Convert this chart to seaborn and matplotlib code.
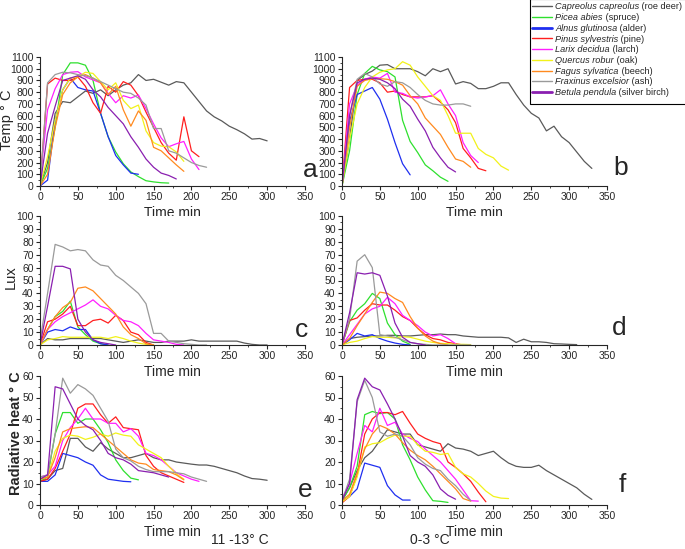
import numpy as np
import pandas as pd
import matplotlib
matplotlib.use('Agg')
import matplotlib.pyplot as plt
from matplotlib.lines import Line2D
from matplotlib.patches import Rectangle
from matplotlib.ticker import MultipleLocator
import seaborn as sns

minutes = [0, 10, 20, 30, 40, 50, 60, 70, 80, 90, 100, 110, 120, 130, 140, 150, 160,
           170, 180, 190, 200, 210, 220, 230, 240, 250, 260, 270, 280, 290, 300, 310,
           320, 330]

keys = ['deer', 'spruce', 'alder', 'pine', 'larch', 'oak', 'beech', 'ash', 'birch']
latin = ['Capreolus capreolus', 'Picea abies', 'Alnus glutinosa', 'Pinus sylvestris',
         'Larix decidua', 'Quercus robur', 'Fagus sylvatica', 'Fraxinus excelsior',
         'Betula pendula']
common = ['roe deer', 'spruce', 'alder', 'pine', 'larch', 'oak', 'beech', 'ash',
          'silver birch']
colors = ['#5a5a5a', '#2ee02e', '#1f2ff0', '#ff1f1f', '#ff1fff', '#f2f21a',
          '#ff8a1f', '#9a9a9a', '#8a1fb0']

# temperature, 11-13 C
temp_warm = {
    'deer': [0, 200, 620, 720, 710, 760, 810, 790, 820, 770, 820, 860, 880, 950, 900, 910,
             885, 860, 890, 880, 800, 720, 640, 590, 555, 510, 480, 445, 400, 405, 385],
    'spruce': [0, 150, 500, 950, 1050, 1050, 1030, 900, 620, 420, 290, 190, 120, 80, 45, 35,
               28, 25],
    'alder': [0, 50, 560, 820, 920, 840, 820, 810, 620, 420, 260, 180, 110, 100],
    'pine': [0, 870, 920, 900, 900, 930, 850, 710, 620, 850, 800, 890, 860, 770, 630, 500,
             370, 280, 220, 590, 300, 250],
    'larch': [50, 650, 830, 950, 970, 975, 930, 905, 880, 790, 710, 770, 750, 775, 660, 530,
              410, 335, 360, 380, 230, 140],
    'oak': [0, 250, 560, 820, 920, 930, 970, 960, 890, 820, 880, 730, 660, 690, 470, 370,
            340, 335, 290, 210],
    'beech': [0, 100, 500, 780, 880, 930, 950, 920, 880, 780, 850, 650, 510, 640, 560, 330,
              300, 240, 180, 125],
    'ash': [0, 880, 950, 970, 965, 950, 940, 920, 890, 860, 830, 800, 790, 750, 690, 490,
            490, 300, 280, 240, 200, 175, 160],
    'birch': [0, 450, 680, 900, 920, 940, 910, 820, 760, 670, 600, 530, 420, 330, 230, 160,
              110, 90, 60],
}

# temperature, 0-3 C
temp_cold = {
    'deer': [0, 400, 900, 950, 980, 1030, 1035, 1000, 1000, 1000, 975, 940, 1000, 975, 1000,
             870, 890, 875, 830, 830, 850, 880, 880, 780, 690, 620, 580, 470, 510, 420, 370,
             290, 210, 150],
    'spruce': [0, 300, 780, 960, 1020, 990, 975, 930, 560, 380, 285, 180, 130, 75, 40],
    'alder': [0, 550, 780, 810, 840, 740, 570, 370, 190, 95],
    'pine': [0, 840, 900, 910, 910, 880, 800, 810, 780, 760, 760, 760, 770, 715, 650, 540,
             320, 240, 150, 130],
    'larch': [0, 700, 860, 910, 930, 920, 960, 800, 790, 760, 750, 760, 770, 820, 700, 600,
              370, 260, 200],
    'oak': [0, 400, 700, 840, 930, 970, 990, 1000, 1060, 1030, 930, 850, 770, 730, 600, 450,
            450, 450, 320, 270, 240, 170, 135],
    'beech': [0, 500, 850, 900, 915, 915, 910, 890, 860, 770, 700, 580, 510, 440, 330, 230,
              210, 160],
    'ash': [0, 600, 910, 960, 930, 870, 850, 890, 880, 840, 780, 730, 700, 690, 690, 700,
            700, 680],
    'birch': [0, 600, 880, 910, 920, 910, 880, 830, 740, 680, 570, 470, 330, 240, 160, 120],
}

# light, 11-13 C
lux_warm = {
    'deer': [0, 5, 4, 4, 5, 5, 5, 5, 5, 4, 3, 2, 3, 4, 3, 2, 2, 3, 3, 3, 4, 3, 3, 3, 3, 3, 3,
             1.5, 0.5, 0, 0],
    'spruce': [0, 12, 22, 26, 34, 14, 8, 3, 1, 0],
    'alder': [0, 10, 12, 11, 14, 12, 12, 4, 1, 0],
    'pine': [0, 18, 20, 24, 30, 15, 15, 19, 20, 17, 23, 19, 10, 8, 2, 0],
    'larch': [0, 12, 18, 22, 25, 28, 31, 35, 30, 28, 23, 19, 18, 15, 9, 4, 3, 2, 0.5, 0],
    'oak': [0, 4, 5, 6.5, 6, 6, 6, 6, 6, 5, 6.5, 5, 3, 1.5, 0.5, 0],
    'beech': [0, 12, 22, 29, 33, 44, 45, 42, 36, 30, 24, 14, 8, 5, 1, 0],
    'ash': [3, 40, 78, 76, 73, 74, 73, 66, 62, 61, 54, 50, 45, 40, 32, 9, 9, 3, 2, 1, 0.5,
            0, 0],
    'birch': [0, 30, 61, 61, 59, 20, 10, 4, 2, 1, 0],
}

# light, 0-3 C
lux_cold = {
    'deer': [0, 5, 6, 6.5, 7, 7, 7.5, 7.5, 7, 7, 7.5, 8, 8, 8.5, 8, 8, 7, 6.5, 6, 6, 6, 6,
             5.5, 2, 4.5, 2.5, 2.5, 2, 1, 0.8, 0.5, 0.3],
    'spruce': [0, 18, 27, 32, 40, 36, 17, 8, 3, 0.5],
    'alder': [0, 4, 9, 7, 8, 5, 3, 1.5, 0.5, 0],
    'pine': [0, 19, 21, 27, 32, 31, 31, 27, 22, 19, 13, 8, 5, 4, 2, 1, 0],
    'larch': [0, 8, 16, 24, 28, 30, 37, 32, 23, 19, 15, 10, 7, 8, 5, 1],
    'oak': [0, 2, 3, 5, 6.5, 6, 6, 5.5, 6.5, 6, 4.5, 3, 2, 1.3, 1, 0.5, 0.5, 0.3],
    'beech': [0, 5, 15, 24, 33, 41, 40, 36, 33, 22, 13, 7, 3, 1, 0],
    'ash': [0, 20, 65, 70, 60, 8, 7, 6, 4, 2, 1, 0.5, 0, 0, 0, 0, 0, 0],
    'birch': [0, 25, 56, 55, 56, 54, 38, 17, 6, 2, 1, 0],
}

# radiative heat, 11-13 C
rad_warm = {
    'deer': [11, 12, 16, 17, 31, 31, 27, 25, 29, 26, 24, 22, 22, 23, 24, 22, 21, 21, 20,
             19.5, 19, 18.6, 18.6, 18, 17, 16, 15, 13.5, 12.3, 12, 11.5],
    'spruce': [11, 13, 33, 43, 43, 38, 40, 40, 35, 29, 21, 16, 12.5, 11.7],
    'alder': [11, 11, 14, 24, 23, 22, 20, 18.5, 14, 12, 11.5, 11, 10.8],
    'pine': [11, 12, 17, 25, 33, 45, 47, 47, 42, 38, 41, 36, 35.5, 35, 23, 18, 15, 13.5, 12,
             10.5],
    'larch': [13, 14, 18, 30, 36, 40, 45, 40, 40, 38, 38, 34, 35.5, 32, 24, 23, 21, 18, 15,
              13.5, 12, 11],
    'oak': [12, 13, 25, 31, 32.5, 32, 30.5, 31.5, 33, 32, 33.5, 32.5, 32, 28, 26, 24, 22, 18,
            14.5, 12],
    'beech': [12, 13, 22, 34, 35.5, 36, 36.4, 36, 33, 30, 27, 24, 21, 19.5, 19, 16.5, 16,
              15.5, 14, 11.7],
    'ash': [13, 14, 33, 59, 52, 56, 54, 51, 45, 39, 26, 22, 20.5, 18, 16.5, 15.5, 15.5, 15.5,
            15, 14.5, 13, 12, 11],
    'birch': [12, 14, 55, 54, 47, 40, 37, 35, 30, 24, 22, 21, 19, 16, 15.5, 15, 14, 13],
}

# radiative heat, 0-3 C
rad_cold = {
    'deer': [2, 8, 16, 22, 25, 30, 35, 34, 33, 33, 28, 27, 26, 25, 28.5, 26.5, 26, 25, 23,
             24, 25, 22, 19.5, 18, 17.5, 17.5, 18.5, 16, 14, 12, 10, 8, 5, 2.6],
    'spruce': [2, 8, 18, 42, 43.5, 42.5, 43, 40, 28, 21, 13, 7, 2, 1.7, 1.2],
    'alder': [1.5, 4, 7.5, 19.5, 18.5, 17.5, 9, 4.7, 2.3, 2.3],
    'pine': [1, 4, 14, 33, 40, 43, 43, 42, 43.5, 38, 33, 31, 29.5, 28.5, 20, 17.5, 14.5, 11,
             6, 1.5],
    'larch': [3, 10, 24, 37, 34, 45, 37, 38.5, 33, 31, 29.5, 26, 23, 20, 16, 12, 7, 2, 1.8],
    'oak': [1.5, 4, 13, 27, 28.5, 29, 31, 32.5, 32, 32, 28, 25, 24.5, 23.5, 24, 17.5, 14.5,
            13, 10, 6.5, 4, 3.2, 3],
    'beech': [2, 5, 15, 26, 33, 37, 35.5, 33, 29, 25.5, 23, 21, 18, 14.5, 11, 7.5, 3, 1.8],
    'ash': [2, 12, 48, 58, 50, 34, 32, 33, 32, 28, 22, 19, 17, 16, 12, 9, 5, 2],
    'birch': [2, 10, 49, 59, 55, 53.5, 47, 40, 32, 23, 20, 18, 14, 7.5, 4.5, 2.7],
}

sns.set_style('ticks')
plt.rcParams['font.family'] = ['Liberation Sans', 'DejaVu Sans']

palette = dict(zip(keys, colors))
W, H = 685, 549
fig = plt.figure(figsize=(W / 100, H / 100), dpi=100)


def draw(left, top, series, ymax, major, minor, letter, letter_xy):
    ax = fig.add_axes([left / W, 1 - (top + 129) / H, 265 / W, 129 / H])
    rows = []
    for k in keys:
        for t, v in zip(minutes, series[k]):
            rows.append((t, v, k))
    df = pd.DataFrame(rows, columns=['Time', 'value', 'species'])
    sns.lineplot(data=df, x='Time', y='value', hue='species', hue_order=keys,
                 palette=palette, estimator=None, linewidth=0.9, legend=False, ax=ax)
    ax.set_xlim(0, 350)
    ax.set_ylim(0, ymax)
    ax.xaxis.set_major_locator(MultipleLocator(50))
    ax.xaxis.set_minor_locator(MultipleLocator(25))
    ax.yaxis.set_major_locator(MultipleLocator(major))
    ax.yaxis.set_minor_locator(MultipleLocator(minor))
    ax.tick_params(which='major', length=3, width=0.8, labelsize=7.5, pad=1.5)
    ax.tick_params(which='minor', length=1.5, width=0.6)
    for s in ['top', 'right']:
        ax.spines[s].set_visible(False)
    for s in ['left', 'bottom']:
        ax.spines[s].set_linewidth(0.8)
    ax.set_xlabel('Time min', fontsize=10, labelpad=2.5)
    ax.set_ylabel('')
    fig.text(letter_xy[0] / W, 1 - letter_xy[1] / H, letter, fontsize=19,
             ha='center', va='center')
    return ax


draw(40, 57, temp_warm, 1100, 100, 50, 'a', (310, 170))
draw(342, 57, temp_cold, 1100, 100, 50, 'b', (621, 168))
draw(40, 216, lux_warm, 100, 10, 5, 'c', (302, 330))
draw(342, 216, lux_cold, 100, 10, 5, 'd', (619, 328))
draw(40, 376, rad_warm, 60, 10, 5, 'e', (305, 490))
draw(342, 376, rad_cold, 60, 10, 5, 'f', (622, 485))

fig.text(7 / W, 1 - 120 / H, 'Temp ° C', rotation=90, fontsize=10.5, ha='center', va='center')
fig.text(11 / W, 1 - 277 / H, 'Lux', rotation=90, fontsize=10.5, ha='center', va='center')
fig.text(16 / W, 1 - 433 / H, 'Radiative heat ° C', rotation=90, fontsize=10.5,
         fontweight='bold', ha='center', va='center')
fig.text(240 / W, 1 - 540 / H, '11 -13° C', fontsize=10, ha='center', va='center')
fig.text(430 / W, 1 - 540 / H, '0-3 °C', fontsize=10, ha='center', va='center')

# legend: italic latin names from the legend, common names added right after them
box = Rectangle((530 / W, 1 - 104 / H), 160 / W, 105 / H, transform=fig.transFigure,
                facecolor='white', edgecolor='black', linewidth=0.8, zorder=4)
fig.add_artist(box)

handles = []
for k, c in zip(keys, colors):
    lw = 2.0 if k in ('alder', 'birch') else 1.0
    handles.append(Line2D([], [], color=c, linewidth=lw))

leg = fig.legend(handles, latin, loc='upper left', bbox_to_anchor=(530 / W, 1.0),
                 prop={'size': 6.6, 'style': 'italic'}, frameon=False,
                 handlelength=2.2, handletextpad=0.3, labelspacing=0.19,
                 borderpad=0.25, borderaxespad=0)
leg.set_zorder(5)

fig.canvas.draw()
renderer = fig.canvas.get_renderer()
for txt, cm in zip(leg.get_texts(), common):
    bb = txt.get_window_extent(renderer)
    base = txt.get_transform().transform(txt.get_position())
    fig.text(bb.x1 / W, base[1] / H, ' (' + cm + ')', fontsize=6.6, ha='left',
             va='baseline', zorder=6)

fig.savefig('out.png', dpi=100)
